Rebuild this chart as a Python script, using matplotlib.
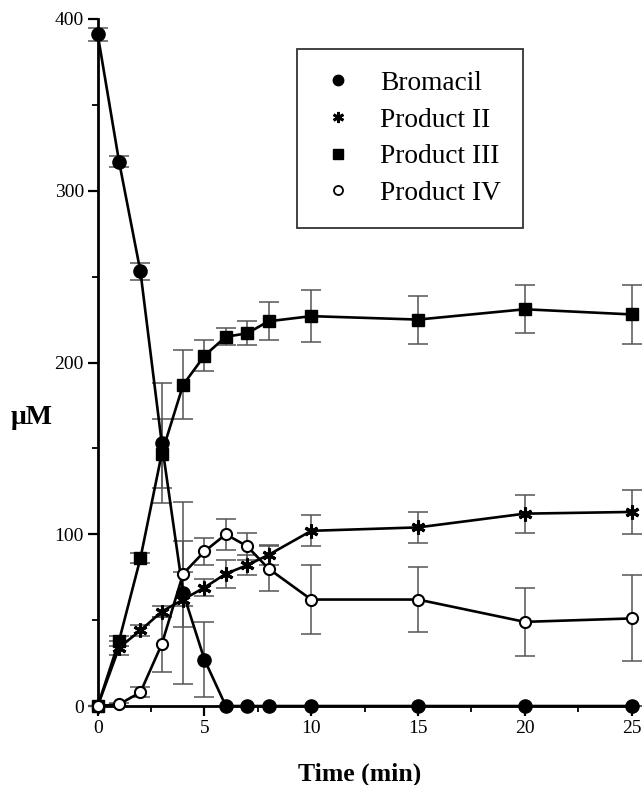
import matplotlib
matplotlib.use("Agg")
import matplotlib.pyplot as plt
from matplotlib.lines import Line2D
from matplotlib.ticker import MultipleLocator

plt.rcParams['font.family'] = ['Liberation Serif', 'DejaVu Serif']

# sampling times (min)
time = [0, 1, 2, 3, 4, 5, 6, 7, 8, 10, 15, 20, 25]

# concentrations (uM) and error bars
bromacil = [391, 317, 253, 153, 66, 27, 0, 0, 0, 0, 0, 0, 0]
bromacil_err = [4, 3, 5, 35, 53, 22, 0, 0, 0, 0, 0, 0, 0]

product_ii = [0, 34, 44, 55, 62, 69, 77, 82, 88, 102, 104, 112, 113]
product_ii_err = [0, 4, 3, 3, 16, 5, 8, 6, 6, 9, 9, 11, 13]

product_iii = [0, 38, 86, 147, 187, 204, 215, 217, 224, 227, 225, 231, 228]
product_iii_err = [0, 3, 3, 20, 20, 9, 5, 7, 11, 15, 14, 14, 17]

product_iv = [0, 1, 8, 36, 77, 90, 100, 93, 80, 62, 62, 49, 51]
product_iv_err = [0, 1, 3, 16, 19, 8, 9, 8, 13, 20, 19, 20, 25]

fig = plt.figure(figsize=(6.42, 7.85), dpi=100)
ax = fig.add_axes([0.1522, 0.1006, 0.8315, 0.8752])

asterisk = (6, 2, 0)
series = [
    (bromacil, bromacil_err, dict(marker='o', ms=9.5, mfc='black', mec='black')),
    (product_ii, product_ii_err, dict(marker=asterisk, ms=10, mec='black', mew=2.2)),
    (product_iii, product_iii_err, dict(marker='s', ms=8.5, mfc='black', mec='black')),
    (product_iv, product_iv_err, dict(marker='o', ms=8, mfc='white', mec='black', mew=1.5)),
]

for vals, err, style in series:
    ax.errorbar(time, vals, yerr=err, fmt='none', ecolor='#555555',
                elinewidth=1.1, capsize=7, capthick=1.1, zorder=2, clip_on=False)
for vals, err, style in series:
    ax.plot(time, vals, color='black', lw=1.9, zorder=3, clip_on=False, **style)

ax.set_xlim(0, 25)
ax.set_ylim(0, 400)
ax.xaxis.set_major_locator(MultipleLocator(5))
ax.xaxis.set_minor_locator(MultipleLocator(2.5))
ax.yaxis.set_major_locator(MultipleLocator(100))
ax.yaxis.set_minor_locator(MultipleLocator(50))
ax.tick_params(which='major', direction='out', length=7, width=1.6, labelsize=14, pad=3)
ax.tick_params(which='minor', direction='out', length=4, width=1.3)

for side in ['top', 'right']:
    ax.spines[side].set_visible(False)
for side in ['left', 'bottom']:
    ax.spines[side].set_linewidth(2)

fig.text(0.5605, 1 - 774 / 785, 'Time (min)', ha='center', va='center',
         fontsize=18.5, fontweight='bold')
fig.text(0.016, 1 - 418 / 785, 'μM', ha='left', va='center',
         fontsize=20, fontweight='bold')

handles = [
    Line2D([], [], ls='none', marker='o', ms=7.5, mfc='black', mec='black'),
    Line2D([], [], ls='none', marker=asterisk, ms=8, mec='black', mew=2),
    Line2D([], [], ls='none', marker='s', ms=7, mfc='black', mec='black'),
    Line2D([], [], ls='none', marker='o', ms=6.5, mfc='white', mec='black', mew=1.3),
]
labels = ['Bromacil', 'Product II', 'Product III', 'Product IV']
leg = fig.legend(handles, labels, loc='upper left',
                 bbox_to_anchor=(297 / 642, 1 - 49 / 785), borderaxespad=0,
                 fontsize=19.7, frameon=True, fancybox=False, edgecolor='black',
                 borderpad=0.8, handlelength=1.4, handletextpad=0.84,
                 labelspacing=0.42)
leg.get_frame().set_linewidth(1.3)

fig.savefig('out.png', dpi=100)
